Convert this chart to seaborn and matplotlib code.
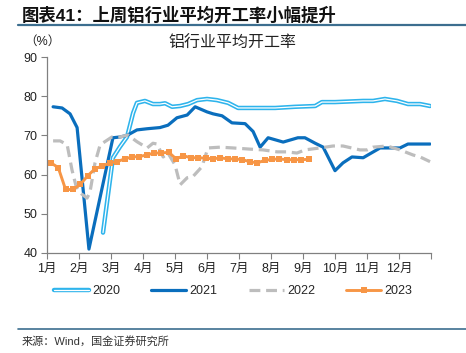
import pandas as pd
import matplotlib.pyplot as plt
import matplotlib.patheffects as pe
import seaborn as sns

sns.set_theme(style="ticks")
plt.rcParams["font.family"] = ["Liberation Sans", "Noto Sans CJK SC"]

## DATA (x = position in months, 0 = start of Jan)
x_2020 = [1.75, 2.06, 2.28, 2.50, 2.69, 2.81, 3.06, 3.31, 3.53, 3.69, 3.91, 4.16, 4.41, 4.69, 5.00, 5.31,
          5.66, 5.97, 6.19, 6.50, 7.13, 7.75, 8.38, 8.59, 9.00, 9.88, 10.19, 10.56, 10.94, 11.28, 11.66, 11.97]
v_2020 = [45.2, 64.3, 67.1, 69.6, 75.7, 78.3, 78.8, 78.0, 78.0, 78.2, 77.3, 77.5, 78.0, 79.0, 79.3, 79.0,
          78.3, 77.0, 77.0, 77.0, 77.0, 77.3, 77.5, 78.5, 78.5, 78.8, 78.8, 79.3, 78.8, 78.0, 78.0, 77.5]

x_2021 = [0.19, 0.47, 0.72, 0.94, 1.31, 2.06, 2.28, 2.50, 2.81, 3.13, 3.53, 3.78, 4.06, 4.38, 4.63, 5.00,
          5.19, 5.47, 5.78, 6.19, 6.44, 6.66, 6.91, 7.38, 7.84, 8.06, 8.38, 8.63, 9.00, 9.25, 9.53, 9.88,
          10.09, 10.41, 10.78, 11.03, 11.28, 11.97]
v_2021 = [77.3, 77.0, 75.5, 72.0, 41.0, 69.4, 69.6, 70.0, 71.4, 71.7, 72.0, 72.6, 74.5, 75.2, 77.3, 76.0,
          75.5, 75.0, 73.2, 73.0, 71.0, 67.0, 69.4, 68.3, 69.4, 69.4, 68.0, 67.0, 61.0, 63.0, 64.5, 64.3,
          65.3, 66.8, 66.8, 66.8, 67.8, 67.8]

x_2022 = [0.19, 0.41, 0.63, 0.78, 0.91, 1.09, 1.25, 1.34, 1.50, 1.66, 2.03, 2.28, 2.53, 2.81, 3.13, 3.31,
          3.44, 3.63, 3.78, 4.00, 4.16, 4.38, 4.56, 4.84, 5.03, 5.41, 5.81, 6.34, 6.75, 7.19, 7.50, 7.81,
          8.06, 8.53, 8.94, 9.25, 9.78, 10.00, 10.19, 10.63, 11.03, 11.44, 11.66, 11.97]
v_2022 = [68.6, 68.6, 67.6, 61.2, 57.0, 55.0, 54.0, 55.4, 63.0, 67.6, 69.6, 69.6, 70.1, 68.4, 66.8, 68.0,
          67.8, 64.5, 65.5, 62.5, 57.4, 59.2, 59.5, 62.0, 66.8, 67.0, 66.8, 66.5, 66.3, 65.8, 65.8, 65.5,
          66.3, 66.8, 67.3, 67.3, 66.3, 66.3, 67.0, 67.3, 66.3, 65.0, 64.5, 63.3]

# 2023 weekly readings, week 1 .. week 36
v_2023 = [63.0, 61.8, 56.2, 56.2, 57.5, 59.7, 61.5, 62.2, 63.0, 63.3, 64.0, 64.5, 64.6, 65.0, 65.5, 65.5,
          65.7, 64.0, 64.8, 64.3, 64.3, 64.2, 64.0, 64.3, 64.0, 64.0, 63.8, 63.3, 63.0, 63.6, 63.9, 64.0,
          63.8, 63.8, 63.8, 63.9]
x_2023 = [0.12 + i * 7 / 30.4 for i in range(len(v_2023))]

months = [f"{m}月" for m in range(1, 13)]

fig = plt.figure(figsize=(4.66, 3.53), dpi=100)
ax = fig.add_axes([0.1009, 0.2833, 0.824, 0.5552])

df20 = pd.DataFrame({"x": x_2020, "v": v_2020})
df21 = pd.DataFrame({"x": x_2021, "v": v_2021})
df22 = pd.DataFrame({"x": x_2022, "v": v_2022})
df23 = pd.DataFrame({"x": x_2023, "v": v_2023})

sns.lineplot(data=df20, x="x", y="v", ax=ax, color="white", lw=0.9, label="2020", estimator=None,
             path_effects=[pe.Stroke(linewidth=3.2, foreground="#2eb4ec"), pe.Normal()])
sns.lineplot(data=df21, x="x", y="v", ax=ax, color="#0a6ebd", lw=2.3, label="2021", estimator=None)
sns.lineplot(data=df22, x="x", y="v", ax=ax, color="#bdbdbd", lw=2.3, label="2022", estimator=None)
ax.lines[-1].set_dashes([3.4, 1.8])
sns.lineplot(data=df23, x="x", y="v", ax=ax, color="#f79646", lw=2.1, label="2023", estimator=None,
             marker="s", markersize=5, markeredgewidth=0)

ax.set_xlim(0, 12)
ax.set_ylim(40, 90)
ax.set_yticks(range(40, 91, 10))
ax.set_xticks(range(13))
ax.set_xticklabels(months + [""])
ax.set_xlabel("")
ax.set_ylabel("")
ax.tick_params(axis="both", labelsize=9, length=4, width=0.8, color="#808080", pad=3,
               labelcolor="#222222")
sns.despine(ax=ax)
for s in ["left", "bottom"]:
    ax.spines[s].set_color("#808080")
    ax.spines[s].set_linewidth(0.9)

ax.legend(ncol=4, loc="center", bbox_to_anchor=(0.5, 1 - 291 / 353), bbox_transform=fig.transFigure,
          frameon=False, fontsize=9, handlelength=2.8, columnspacing=2.5, handletextpad=0.25,
          numpoints=1)

# titles, unit, source
fig.text(22 / 466, 1 - 15 / 353, "图表41：上周铝行业平均开工率小幅提升", fontsize=12.5, fontweight="bold",
         va="center", ha="left", color="#111111")
fig.text(232 / 466, 1 - 43 / 353, "铝行业平均开工率", fontsize=11.5, va="center", ha="center",
         color="#222222")
fig.text(24 / 466, 1 - 42 / 353, "（%）", fontsize=9, va="center", ha="left", color="#222222")
fig.text(22 / 466, 1 - 341 / 353, "来源：Wind，国金证券研究所", fontsize=8, va="center", ha="left",
         color="#333333")
fig.add_artist(plt.Line2D([18 / 466, 1], [1 - 25 / 353] * 2, color="#3c6e8f", lw=1.6))
fig.add_artist(plt.Line2D([18 / 466, 1], [1 - 329 / 353] * 2, color="#3c6e8f", lw=1.2))

fig.savefig("out.png", dpi=100)
